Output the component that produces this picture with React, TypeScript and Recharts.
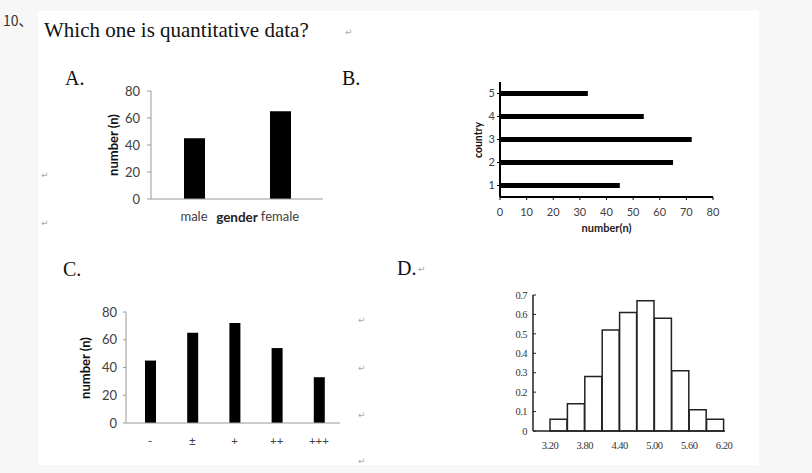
import { Bar, BarChart, Label, XAxis, YAxis } from "recharts";

// A: gender
const genderCats = ["male", "female"];
const genderCounts = [45, 65];
const countTicks = [0, 20, 40, 60, 80];

// B: country (horizontal)
const countryCats = ["1", "2", "3", "4", "5"];
const countryCounts = [45, 65, 72, 54, 33];
const countryTicks = [0, 10, 20, 30, 40, 50, 60, 70, 80];

// C: grade
const gradeCats = ["-", "±", "+", "++", "+++"];
const gradeCounts = [45, 65, 72, 54, 33];

// D: histogram
const histStarts = [3.2, 3.5, 3.8, 4.1, 4.4, 4.7, 5.0, 5.3, 5.6, 5.9];
const histHeights = [0.06, 0.14, 0.28, 0.52, 0.61, 0.67, 0.58, 0.31, 0.11, 0.06];
const histXTicks = [3.2, 3.8, 4.4, 5.0, 5.6, 6.2];
const histYTicks = [0, 0.1, 0.2, 0.3, 0.4, 0.5, 0.6, 0.7];

const genderData = genderCats.map((g, i) => ({ gender: g, n: genderCounts[i] }));
const countryData = countryCats.map((c, i) => ({ country: c, n: countryCounts[i] }));
const gradeData = gradeCats.map((g, i) => ({ grade: g, n: gradeCounts[i] }));
const histData = histStarts.map((s, i) => ({
  bin: `${s.toFixed(2)}-${(s + 0.3).toFixed(2)}`,
  start: s,
  h: histHeights[i],
}));

const TICK = "#404040";
const GREY_AXIS = "#999999";

const returns = [
  [345, 35],
  [41, 178],
  [41, 226],
  [358, 323],
  [358, 371],
  [358, 418],
  [358, 464],
  [418, 272],
];

// rotated y-axis titles: [text, cx, cy, size]
const yTitles: [string, number, number, number][] = [
  ["number (n)", 113, 145, 13],
  ["country", 478, 140, 10.5],
  ["number (n)", 85, 368, 13],
];

export default function App() {
  return (
    <div
      style={{
        position: "absolute",
        left: 0,
        top: 0,
        width: 812,
        height: 473,
        background: "#f7f7f7",
        overflow: "hidden",
        fontFamily: "Lato, sans-serif",
      }}
    >
      <div style={{ position: "absolute", left: 38, top: 11, width: 721, height: 454, background: "#fff" }} />

      {/* A */}
      <div style={{ position: "absolute", left: 90, top: 80 }}>
        <BarChart width={250} height={150} data={genderData} margin={{ top: 11, right: 17, left: 0, bottom: 0 }}>
          <XAxis
            dataKey="gender"
            height={31}
            tickSize={0}
            tickMargin={13}
            interval={0}
            axisLine={{ stroke: GREY_AXIS }}
            tick={{ fontSize: 13, fill: TICK }}
          >
            <Label value="gender" position="insideTop" offset={13} style={{ fontSize: 13.5, fontWeight: 700, fill: "#222" }} />
          </XAxis>
          <YAxis
            domain={[0, 80]}
            ticks={countTicks}
            width={61}
            tickSize={4}
            tickMargin={7}
            axisLine={{ stroke: GREY_AXIS }}
            tickLine={{ stroke: GREY_AXIS }}
            tick={{ fontSize: 13, fill: TICK }}
          />
          <Bar dataKey="n" fill="#000" barSize={21} isAnimationActive={false} />
        </BarChart>
      </div>

      {/* B */}
      <div style={{ position: "absolute", left: 440, top: 70 }}>
        <BarChart
          width={290}
          height={170}
          data={countryData}
          layout="vertical"
          margin={{ top: 12, right: 17, left: 0, bottom: 0 }}
        >
          <XAxis
            type="number"
            domain={[0, 80]}
            ticks={countryTicks}
            height={43}
            tickSize={3}
            tickMargin={8}
            axisLine={{ stroke: "#000", strokeWidth: 2 }}
            tickLine={{ stroke: "#000" }}
            tick={{ fontSize: 11, fill: TICK }}
          >
            <Label value="number(n)" position="insideTop" offset={27} style={{ fontSize: 11, fontWeight: 700, fill: "#222" }} />
          </XAxis>
          <YAxis
            type="category"
            dataKey="country"
            reversed
            width={60}
            tickSize={3}
            tickMargin={2}
            interval={0}
            axisLine={{ stroke: "#000", strokeWidth: 2 }}
            tickLine={{ stroke: "#000" }}
            tick={{ fontSize: 11, fill: TICK }}
          />
          <Bar dataKey="n" fill="#000" barSize={5} isAnimationActive={false} />
        </BarChart>
      </div>

      {/* C */}
      <div style={{ position: "absolute", left: 40, top: 300 }}>
        <BarChart width={320} height={160} data={gradeData} margin={{ top: 12, right: 20, left: 0, bottom: 0 }}>
          <XAxis
            dataKey="grade"
            height={37}
            tickSize={0}
            tickMargin={14}
            interval={0}
            padding={{ left: 3, right: 0 }}
            axisLine={{ stroke: GREY_AXIS }}
            tick={{ fontSize: 11.5, fill: TICK }}
          />
          <YAxis
            domain={[0, 80]}
            ticks={countTicks}
            width={86}
            tickSize={3}
            tickMargin={6}
            axisLine={{ stroke: GREY_AXIS }}
            tickLine={{ stroke: GREY_AXIS }}
            tick={{ fontSize: 13, fill: TICK }}
          />
          <Bar dataKey="n" fill="#000" barSize={11} isAnimationActive={false} />
        </BarChart>
      </div>

      {/* D */}
      <div style={{ position: "absolute", left: 480, top: 280, fontFamily: "'Liberation Serif', serif" }}>
        <BarChart
          width={260}
          height={180}
          data={histData}
          barCategoryGap={0}
          margin={{ top: 15, right: 15, left: 0, bottom: 0 }}
        >
          <XAxis
            xAxisId="val"
            type="number"
            dataKey="start"
            domain={[2.907, 6.217]}
            allowDataOverflow
            ticks={histXTicks}
            height={29}
            tickSize={0}
            tickMargin={11}
            axisLine={{ stroke: "#222", strokeWidth: 1.5 }}
            tick={{ fontSize: 10.5, fill: "#333", letterSpacing: -0.5 }}
            tickFormatter={(v: number) => v.toFixed(2)}
          />
          <XAxis xAxisId="bin" dataKey="bin" hide height={0} padding={{ left: 17, right: 1 }} />
          <YAxis
            domain={[0, 0.7]}
            ticks={histYTicks}
            width={53}
            tickSize={-3}
            tickMargin={9}
            axisLine={{ stroke: "#222", strokeWidth: 1.5 }}
            tickLine={{ stroke: "#222" }}
            tick={{ fontSize: 10.5, fill: "#333", letterSpacing: -0.5 }}
            tickFormatter={(v: number) => (v === 0 ? "0" : v.toFixed(1))}
          />
          <Bar xAxisId="bin" dataKey="h" fill="#fff" stroke="#222" strokeWidth={1.5} isAnimationActive={false} />
        </BarChart>
      </div>

      <svg width={812} height={473} style={{ position: "absolute", left: 0, top: 0, pointerEvents: "none" }}>
        <text x={3} y={26} fontSize={14} fill="#333" fontFamily="'Noto Sans CJK SC', sans-serif">
          10、
        </text>
        <text x={44} y={36.5} fontSize={21} fill="#111" fontFamily="'Liberation Serif', serif">
          Which one is quantitative data?
        </text>
        <text x={65} y={85} fontSize={20} fill="#111" fontFamily="'Liberation Serif', serif">A.</text>
        <text x={342} y={85} fontSize={20} fill="#111" fontFamily="'Liberation Serif', serif">B.</text>
        <text x={63} y={276} fontSize={20} fill="#111" fontFamily="'Liberation Serif', serif">C.</text>
        <text x={397} y={275} fontSize={20} fill="#111" fontFamily="'Liberation Serif', serif">D.</text>
        {yTitles.map(([t, cx, cy, fs], i) => (
          <text
            key={`yt${i}`}
            x={cx}
            y={cy}
            fontSize={fs}
            fontWeight={700}
            fill="#111"
            textAnchor="middle"
            dominantBaseline="central"
            fontFamily="Lato, sans-serif"
            transform={`rotate(-90 ${cx} ${cy})`}
          >
            {t}
          </text>
        ))}
        {returns.map(([x, y], i) => (
          <text key={i} x={x} y={y} fontSize={9} fill="#aaa" fontFamily="'DejaVu Sans', sans-serif">
            ↵
          </text>
        ))}
      </svg>
    </div>
  );
}
